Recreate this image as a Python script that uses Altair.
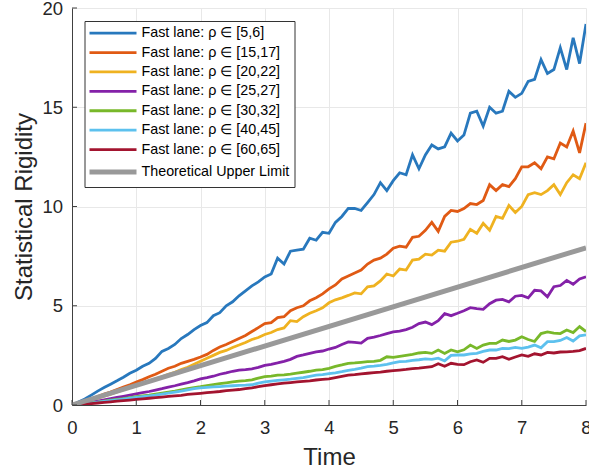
import altair as alt
import pandas as pd

# ---------------- data ----------------
t = [round(i * 0.1, 1) for i in range(81)]

names = [
    "Fast lane: ρ ∈ [5,6]",
    "Fast lane: ρ ∈ [15,17]",
    "Fast lane: ρ ∈ [20,22]",
    "Fast lane: ρ ∈ [25,27]",
    "Fast lane: ρ ∈ [30,32]",
    "Fast lane: ρ ∈ [40,45]",
    "Fast lane: ρ ∈ [60,65]",
    "Theoretical Upper Limit",
]
colors = ["#2878BD", "#E05A14", "#EFB220", "#8421A8", "#78B82A", "#5DC1EE", "#A3142F", "#999999"]
widths = [2.8, 2.8, 2.8, 2.8, 2.8, 2.8, 2.8, 5]

rho_5_6 = [0.0, 0.15, 0.3, 0.5, 0.7, 0.88, 1.05, 1.22, 1.4, 1.6,
           1.75, 1.95, 2.1, 2.35, 2.7, 2.85, 3.05, 3.35, 3.55, 3.8,
           4.0, 4.15, 4.5, 4.65, 5.0, 5.2, 5.5, 5.75, 6.0, 6.2,
           6.45, 6.6, 7.4, 7.1, 7.75, 7.8, 7.85, 8.4, 8.3, 8.7,
           8.65, 9.2, 9.5, 9.9, 9.9, 9.8, 10.2, 10.6, 11.2, 10.8,
           11.3, 11.7, 11.6, 12.6, 11.9, 12.6, 13.1, 12.9, 13.0, 13.7,
           13.3, 13.6, 14.7, 14.8, 14.05, 15.0, 14.7, 14.8, 15.8, 15.5,
           15.7, 16.3, 16.4, 17.4, 16.7, 16.9, 18.0, 16.9, 18.5, 17.2,
           19.2]
rho_15_17 = [0, 0.08, 0.18, 0.3, 0.42, 0.55, 0.65, 0.78, 0.9, 1.02,
             1.15, 1.28, 1.42, 1.55, 1.7, 1.85, 1.95, 2.1, 2.2, 2.3,
             2.42, 2.55, 2.75, 2.92, 3.05, 3.2, 3.35, 3.5, 3.7, 3.9,
             4.1, 4.15, 4.4, 4.45, 4.75, 4.9, 5.0, 5.25, 5.4, 5.6,
             5.85, 6.05, 6.35, 6.5, 6.65, 6.8, 7.1, 7.3, 7.4, 7.6,
             7.9, 8.0, 7.95, 8.45, 8.5, 8.8, 9.2, 8.75, 9.5, 9.8,
             9.75, 9.9, 10.15, 10.1, 10.3, 11.1, 10.8, 11.1, 11.0, 11.4,
             12.0, 12.0, 12.2, 11.9, 12.5, 12.4, 13.2, 13.0, 13.8, 12.7,
             14.2]
rho_20_22 = [0, 0.07, 0.15, 0.25, 0.35, 0.45, 0.55, 0.66, 0.77, 0.88,
             0.98, 1.1, 1.2, 1.32, 1.42, 1.55, 1.65, 1.78, 1.9, 2.05,
             2.2, 2.35, 2.5, 2.65, 2.75, 2.9, 3.02, 3.15, 3.3, 3.4,
             3.55, 3.65, 3.8, 3.88, 4.25, 4.2, 4.45, 4.62, 4.75, 4.9,
             5.15, 5.3, 5.4, 5.52, 5.65, 5.6, 5.95, 6.0, 6.25, 6.6,
             6.5, 6.85, 6.8, 7.3, 7.35, 7.6, 7.55, 7.8, 7.75, 8.2,
             8.25, 8.35, 8.85, 8.65, 9.15, 8.8, 9.5, 9.4, 10.05, 9.7,
             10.0, 10.6, 10.7, 10.6, 10.8, 11.1, 10.6, 11.2, 11.6, 11.4,
             12.2]
rho_25_27 = [0, 0.04, 0.09, 0.14, 0.2, 0.26, 0.32, 0.38, 0.44, 0.5,
             0.56, 0.62, 0.68, 0.75, 0.82, 0.9, 0.97, 1.05, 1.13, 1.22,
             1.32, 1.38, 1.45, 1.55, 1.62, 1.7, 1.76, 1.78, 1.82, 1.9,
             2.0, 2.05, 2.12, 2.2, 2.3, 2.45, 2.52, 2.6, 2.68, 2.72,
             2.82, 2.9, 3.05, 3.18, 3.15, 3.12, 3.36, 3.42, 3.5, 3.6,
             3.68, 3.72, 3.8, 3.92, 4.1, 4.18, 4.05, 4.25, 4.6, 4.5,
             4.62, 4.75, 4.9, 4.85, 4.82, 5.1, 5.28, 5.32, 5.2, 5.48,
             5.52, 5.4, 5.78, 5.75, 5.45, 5.96, 6.02, 6.28, 6.08, 6.35,
             6.46]
rho_30_32 = [0, 0.03, 0.07, 0.11, 0.15, 0.2, 0.24, 0.28, 0.32, 0.37,
             0.42, 0.46, 0.5, 0.55, 0.6, 0.65, 0.7, 0.76, 0.82, 0.87,
             0.92, 0.98, 1.03, 1.08, 1.12, 1.16, 1.2, 1.23, 1.27, 1.35,
             1.43, 1.45, 1.5, 1.52, 1.55, 1.6, 1.65, 1.7, 1.76, 1.78,
             1.85, 1.95, 2.02, 2.1, 2.12, 2.15, 2.18, 2.2, 2.25, 2.43,
             2.4, 2.45, 2.5, 2.55, 2.62, 2.65, 2.6, 2.77, 2.6, 2.77,
             2.68, 2.78, 3.02, 2.85, 3.02, 3.1, 3.1, 3.27, 3.2, 3.27,
             3.44, 3.3, 3.2, 3.6, 3.68, 3.62, 3.6, 3.78, 3.65, 3.95,
             3.7]
rho_40_45 = [0, 0.03, 0.06, 0.1, 0.14, 0.18, 0.22, 0.26, 0.3, 0.34,
             0.38, 0.42, 0.46, 0.5, 0.55, 0.6, 0.65, 0.7, 0.76, 0.82,
             0.86, 0.89, 0.91, 0.93, 0.95, 0.97, 0.99, 1.0, 1.02, 1.1,
             1.16, 1.2, 1.24, 1.27, 1.3, 1.34, 1.38, 1.44, 1.5, 1.53,
             1.58, 1.62, 1.68, 1.75, 1.8, 1.86, 1.93, 1.96, 2.0, 2.05,
             2.12, 2.18, 2.2, 2.25, 2.28, 2.32, 2.3, 2.36, 2.22, 2.5,
             2.52, 2.52, 2.58, 2.6, 2.7, 2.77, 2.77, 2.85, 2.84, 2.9,
             2.85, 2.92, 3.02, 2.88, 3.19, 3.19, 3.25, 3.4, 3.22, 3.48,
             3.53]
rho_60_65 = [0, 0.02, 0.04, 0.07, 0.1, 0.13, 0.16, 0.19, 0.22, 0.25,
             0.28, 0.31, 0.34, 0.37, 0.4, 0.43, 0.46, 0.49, 0.53, 0.56,
             0.59, 0.62, 0.65, 0.68, 0.72, 0.75, 0.78, 0.82, 0.86, 0.92,
             0.98, 1.02, 1.06, 1.1, 1.13, 1.16, 1.19, 1.22, 1.26, 1.29,
             1.32, 1.38, 1.44, 1.5, 1.53, 1.57, 1.6, 1.63, 1.66, 1.7,
             1.73, 1.76, 1.79, 1.83, 1.86, 1.9, 1.93, 2.08, 1.95, 2.1,
             2.05, 2.03, 2.18, 2.27, 2.15, 2.35, 2.35, 2.43, 2.3, 2.42,
             2.52, 2.45, 2.58, 2.52, 2.65, 2.62, 2.67, 2.68, 2.7, 2.74,
             2.85]
limit_t = [0, 8]
limit_v = [0, 7.92]

x_ticks = [0, 1, 2, 3, 4, 5, 6, 7, 8]
y_ticks = [0, 5, 10, 15, 20]

# ---------------- table ----------------
series_vals = [rho_5_6, rho_15_17, rho_20_22, rho_25_27, rho_30_32, rho_40_45, rho_60_65]
rows = []
for name, vals in zip(names[:7], series_vals):
    for ti, v in zip(t, vals):
        rows.append({"t": ti, "v": v, "series": name})
for ti, v in zip(limit_t, limit_v):
    rows.append({"t": ti, "v": v, "series": names[7]})
df = pd.DataFrame(rows)

FONT = "Liberation Sans"
W, H = 514, 397

xscale = alt.Scale(domain=[0, 8], nice=False, zero=False)
yscale = alt.Scale(domain=[0, 20], nice=False, zero=False)
xaxis = alt.Axis(title="Time", values=x_ticks, ticks=False, labelFlush=False,
                 labelPadding=13, titlePadding=9, grid=True)
yaxis = alt.Axis(title="Statistical Rigidity", values=y_ticks, ticks=False, labelFlush=False,
                 labelPadding=9.5, titlePadding=5, grid=True)

lines = alt.Chart(df).mark_line(clip=True).encode(
    x=alt.X("t:Q", scale=xscale, axis=xaxis),
    y=alt.Y("v:Q", scale=yscale, axis=yaxis),
    color=alt.Color("series:N", sort=names,
                    scale=alt.Scale(domain=names, range=colors),
                    legend=alt.Legend(title=None)),
    strokeWidth=alt.StrokeWidth("series:N", sort=names,
                                scale=alt.Scale(type="ordinal", domain=names, range=widths),
                                legend=alt.Legend(title=None)),
)

xt = alt.Chart(pd.DataFrame({"xv": x_ticks})).mark_rule(color="#404040", strokeWidth=1).encode(
    x=alt.X("xv:Q", scale=xscale, axis=xaxis),
    y=alt.value(H), y2=alt.value(H - 5),
)
yt = alt.Chart(pd.DataFrame({"yv": y_ticks})).mark_rule(color="#404040", strokeWidth=1).encode(
    y=alt.Y("yv:Q", scale=yscale, axis=yaxis),
    x=alt.value(0), x2=alt.value(5),
)

chart = alt.layer(lines, xt, yt).properties(
    width=W, height=H,
    autosize=alt.AutoSizeParams(type="none"),
    padding={"left": 72, "top": 8, "right": 3, "bottom": 68},
    background="white",
).configure_view(stroke=None).configure_axis(
    domainColor="#404040", domainWidth=1,
    gridColor="#e8e8e8", gridWidth=1,
    labelFont=FONT, labelFontSize=18.5, labelColor="#262626",
    titleFont=FONT, titleFontSize=24, titleColor="#262626", titleFontWeight="normal",
).configure_legend(
    orient="none", legendX=12.5, legendY=13,
    fillColor="white", strokeColor="#333333", padding=5,
    labelFont=FONT, labelFontSize=14.3, labelColor="#000000", labelLimit=0,
    symbolType="M-7.15,0H39.85", symbolSize=4, symbolStrokeWidth=3,
    labelOffset=37.7, rowPadding=4.4, cornerRadius=0,
)

chart.save("out.html", embed_options={"renderer": "svg", "actions": False})
